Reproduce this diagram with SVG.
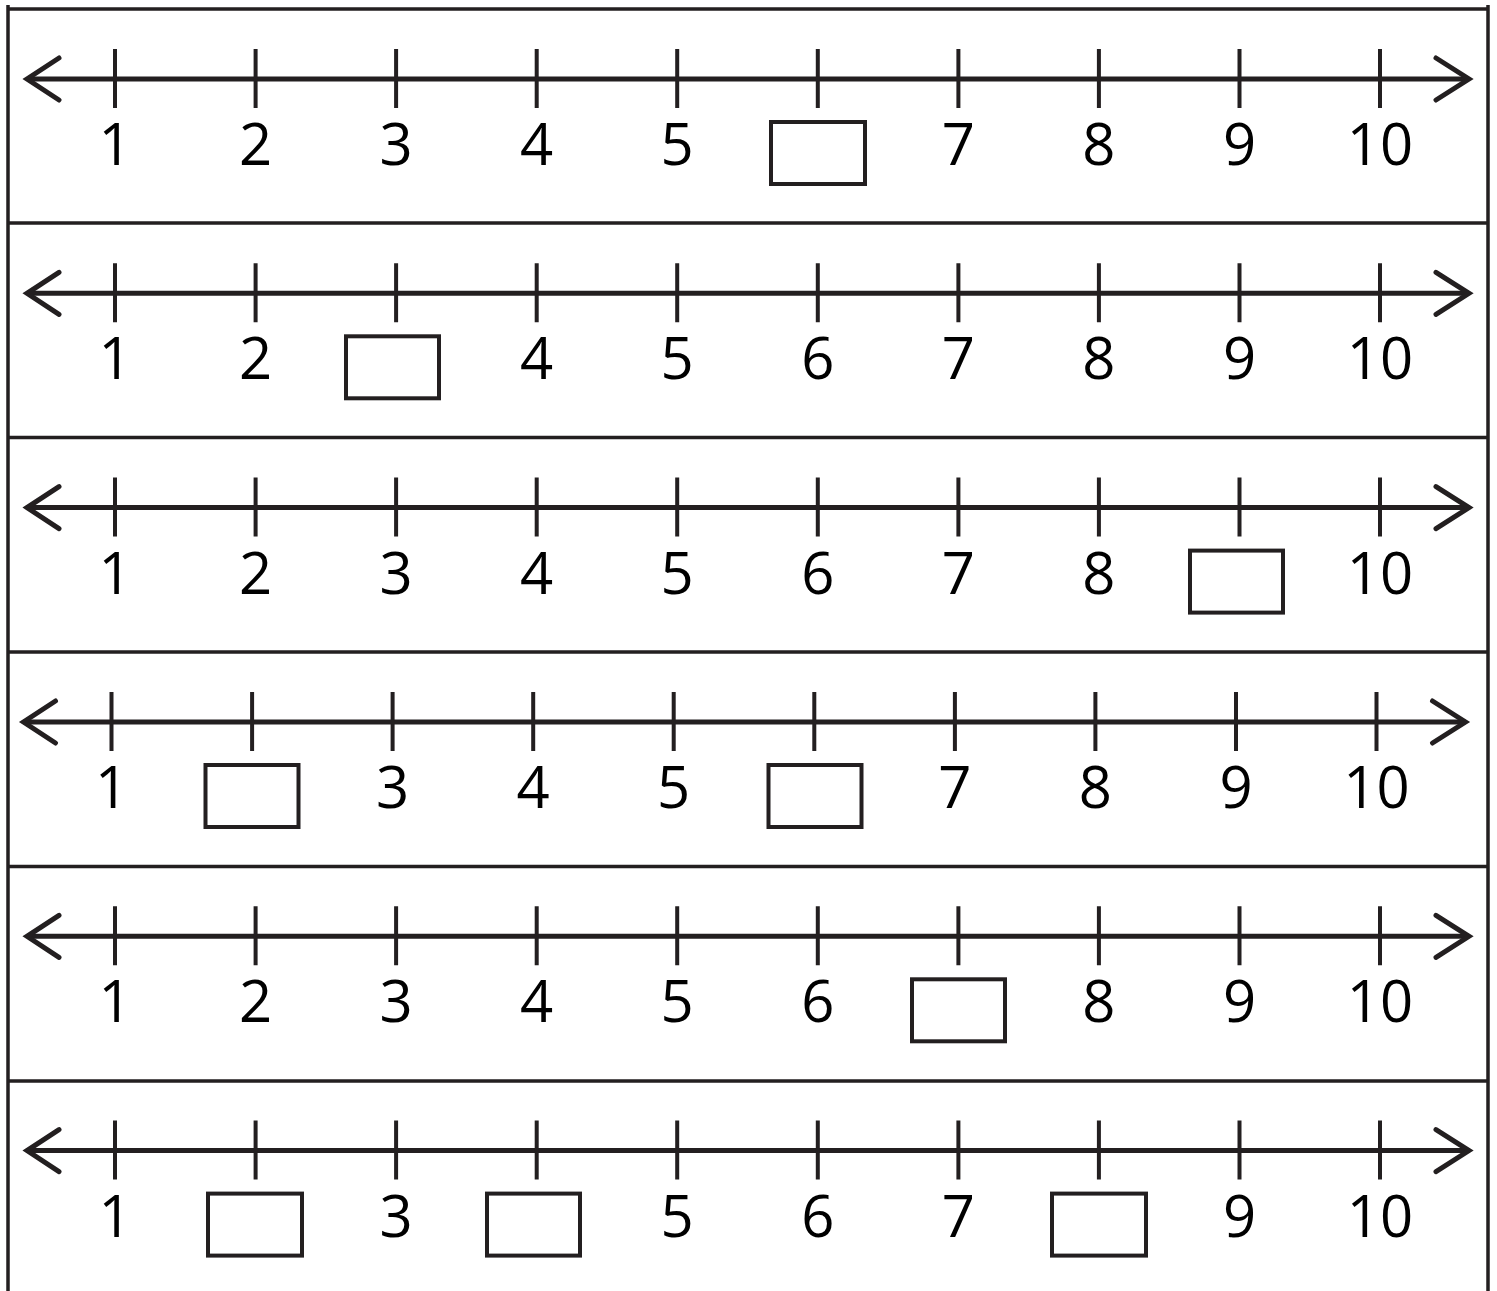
<svg xmlns="http://www.w3.org/2000/svg" xmlns:xlink="http://www.w3.org/1999/xlink" width="1497" height="1291" viewBox="0 0 1497 1291">
<style>
.ln{stroke:#231f20;fill:none}
.axis{stroke-width:5}
.tick{stroke-width:4}
.head{stroke-width:5;stroke-linecap:round;stroke-linejoin:miter}
.frame{stroke-width:3.5}
.box{stroke:#231f20;stroke-width:4;fill:#fff}
.num{font-family:"Open Sans","Liberation Sans",sans-serif;font-size:58px;font-weight:500;fill:#000;text-anchor:middle}
</style>
<defs>
<g id="line">
<path class="ln axis" d="M27 0H1469"/>
<path class="ln head" d="M59 -21L27 0L59 21M1436 -21L1469 0L1436 21"/>
<path class="ln tick" d="M115 -30V29M255.6 -30V29M396.1 -30V29M536.7 -30V29M677.2 -30V29M817.8 -30V29M958.4 -30V29M1098.9 -30V29M1239.5 -30V29M1380 -30V29"/>
</g>
</defs>
<g id="frame">
<path class="ln frame" d="M8 5V1291M1488 5V1291"/>
<path class="ln frame" d="M8 9H1488M8 223H1488M8 437.5H1488M8 652H1488M8 866.5H1488M8 1081H1488"/>
</g>
<g id="row1" transform="translate(0,79)">
<use xlink:href="#line"/>
<text class="num" x="115" y="86">1</text><text class="num" x="255.6" y="86">2</text><text class="num" x="396.1" y="86">3</text><text class="num" x="536.7" y="86">4</text><text class="num" x="677.2" y="86">5</text><text class="num" x="958.4" y="86">7</text><text class="num" x="1098.9" y="86">8</text><text class="num" x="1239.5" y="86">9</text><text class="num" x="1380" y="86">10</text>
<rect class="box" x="771" y="43" width="94" height="62"/>
</g>
<g id="row2" transform="translate(0,293.3)">
<use xlink:href="#line"/>
<text class="num" x="115" y="86">1</text><text class="num" x="255.6" y="86">2</text><text class="num" x="536.7" y="86">4</text><text class="num" x="677.2" y="86">5</text><text class="num" x="817.8" y="86">6</text><text class="num" x="958.4" y="86">7</text><text class="num" x="1098.9" y="86">8</text><text class="num" x="1239.5" y="86">9</text><text class="num" x="1380" y="86">10</text>
<rect class="box" x="346" y="43" width="93" height="62"/>
</g>
<g id="row3" transform="translate(0,507.6)">
<use xlink:href="#line"/>
<text class="num" x="115" y="86">1</text><text class="num" x="255.6" y="86">2</text><text class="num" x="396.1" y="86">3</text><text class="num" x="536.7" y="86">4</text><text class="num" x="677.2" y="86">5</text><text class="num" x="817.8" y="86">6</text><text class="num" x="958.4" y="86">7</text><text class="num" x="1098.9" y="86">8</text><text class="num" x="1380" y="86">10</text>
<rect class="box" x="1190" y="43" width="93" height="62"/>
</g>
<g id="row4" transform="translate(-3.5,722)">
<use xlink:href="#line"/>
<text class="num" x="115" y="86">1</text><text class="num" x="396.1" y="86">3</text><text class="num" x="536.7" y="86">4</text><text class="num" x="677.2" y="86">5</text><text class="num" x="958.4" y="86">7</text><text class="num" x="1098.9" y="86">8</text><text class="num" x="1239.5" y="86">9</text><text class="num" x="1380" y="86">10</text>
<rect class="box" x="209" y="43" width="93" height="62"/>
<rect class="box" x="772" y="43" width="93" height="62"/>
</g>
<g id="row5" transform="translate(0,936.3)">
<use xlink:href="#line"/>
<text class="num" x="115" y="86">1</text><text class="num" x="255.6" y="86">2</text><text class="num" x="396.1" y="86">3</text><text class="num" x="536.7" y="86">4</text><text class="num" x="677.2" y="86">5</text><text class="num" x="817.8" y="86">6</text><text class="num" x="1098.9" y="86">8</text><text class="num" x="1239.5" y="86">9</text><text class="num" x="1380" y="86">10</text>
<rect class="box" x="912" y="43" width="93" height="62"/>
</g>
<g id="row6" transform="translate(0,1150.6)">
<use xlink:href="#line"/>
<text class="num" x="115" y="86">1</text><text class="num" x="396.1" y="86">3</text><text class="num" x="677.2" y="86">5</text><text class="num" x="817.8" y="86">6</text><text class="num" x="958.4" y="86">7</text><text class="num" x="1239.5" y="86">9</text><text class="num" x="1380" y="86">10</text>
<rect class="box" x="208" y="43" width="94" height="62"/>
<rect class="box" x="487" y="43" width="93" height="62"/>
<rect class="box" x="1052" y="43" width="94" height="62"/>
</g>
</svg>
